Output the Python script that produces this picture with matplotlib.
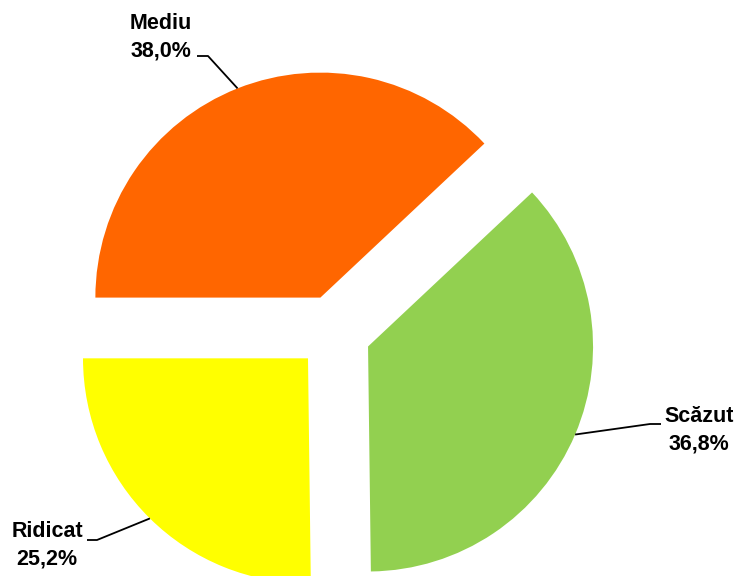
import numpy as np
import matplotlib
matplotlib.use("Agg")
import matplotlib.pyplot as plt

# Données
categories = ["Mediu", "Scăzut", "Ridicat"]
valeurs = [38.0, 36.8, 25.2]
etiquettes = ["38,0%", "36,8%", "25,2%"]
couleurs = ["#FF6600", "#92D050", "#FFFF00"]

# Mise en page (unités = pixels, centre du camembert à l'origine)
rayon = 225
eclatement = 37
coudes = [(-126, 276), (316, -92), (-237, -208)]
fins = [(-137, 276), (327, -92), (-247, -208)]
textes = [(-173, 295), (365, -98), (-287, -213)]

fig = plt.figure(figsize=(7.37, 5.76), dpi=100)
ax = fig.add_axes([0, 0, 1, 1])
wedges, _ = ax.pie(valeurs, colors=couleurs, radius=rayon,
                   explode=[eclatement] * 3, startangle=180,
                   counterclock=False,
                   wedgeprops=dict(linewidth=0))

for w, cat, pct, coude, fin, pos in zip(wedges, categories, etiquettes,
                                        coudes, fins, textes):
    tm = np.radians((w.theta1 + w.theta2) / 2)
    cx, cy = w.center
    x0 = cx + w.r * np.cos(tm)
    y0 = cy + w.r * np.sin(tm)
    ax.plot([x0, coude[0], fin[0]], [y0, coude[1], fin[1]],
            color="black", linewidth=1.3, solid_capstyle="butt")
    ax.text(pos[0], pos[1], cat + "\n" + pct, ha="center", va="center",
            fontsize=15.5, fontweight="bold", family="Liberation Sans",
            linespacing=1.4)

ax.set_xlim(-334, 403)
ax.set_ylim(-244, 332)
ax.set_aspect("auto")
ax.axis("off")
fig.savefig("out.png", dpi=100)
